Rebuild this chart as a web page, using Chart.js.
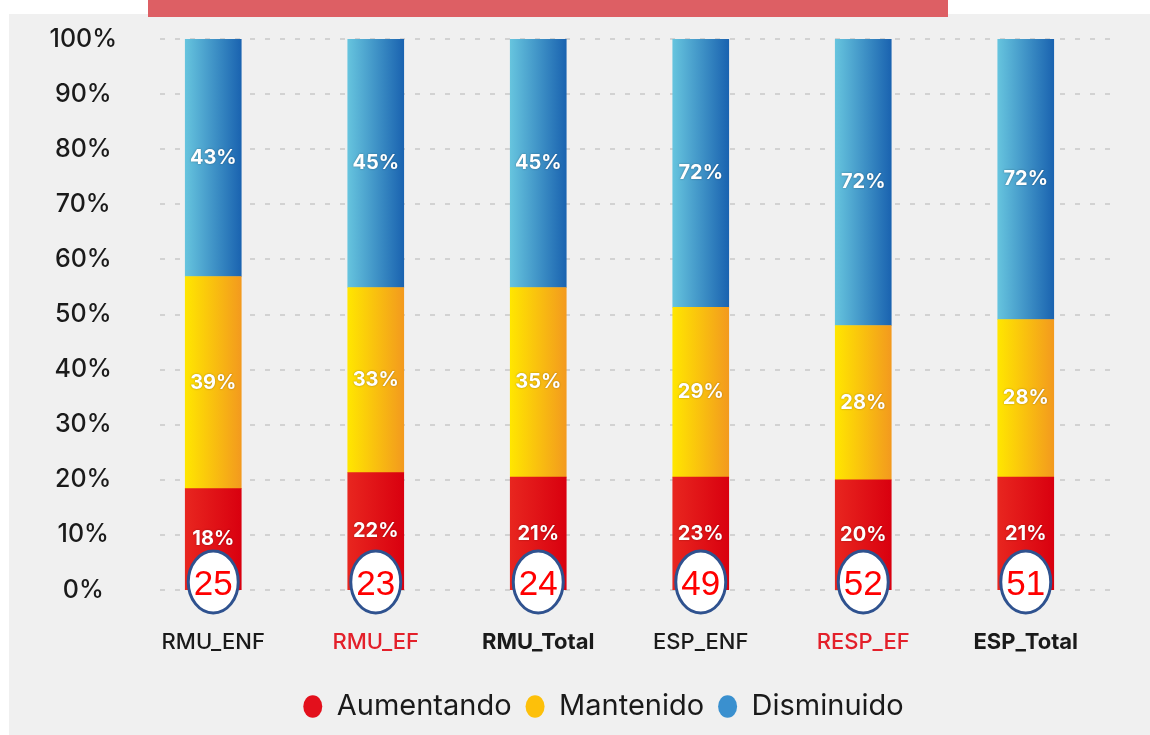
<!DOCTYPE html>
<html>
<head>
<meta charset="utf-8">
<script src="https://cdn.jsdelivr.net/npm/chart.js@4.4.0/dist/chart.umd.min.js"></script>
<style>
    body { margin: 0; background: #ffffff; }
    #latar { position: absolute; left: 9px; top: 14px; width: 1141px; height: 721px; background: #f0f0f0; }
    #pita { position: absolute; left: 148px; top: 0; width: 800px; height: 17px; background: #dd5f64; }
    #wadah { position: absolute; left: 0; top: 0; width: 1150px; height: 735px; }
</style>
</head>
<body>
<div id="latar"></div>
<div id="pita"></div>
<div id="wadah"><canvas id="grafik" width="1150" height="735"></canvas></div>
<script>
// Data
const kategori    = ['RMU_ENF', 'RMU_EF', 'RMU_Total', 'ESP_ENF', 'RESP_EF', 'ESP_Total'];
const aumentando  = [18.4, 21.3, 20.5, 20.5, 20.0, 20.5];
const mantenido   = [38.5, 33.6, 34.4, 30.8, 28.0, 28.6];
const disminuido  = [43.1, 45.1, 45.1, 48.7, 52.0, 50.9];

// Teks label di dalam batang (apa adanya dari gambar)
const labelAumentando = ['18%', '22%', '21%', '23%', '20%', '21%'];
const labelMantenido  = ['39%', '33%', '35%', '29%', '28%', '28%'];
const labelDisminuido = ['43%', '45%', '45%', '72%', '72%', '72%'];

// Angka di dalam elips
const jumlahN = ['25', '23', '24', '49', '52', '51'];

const tickY = [0, 10, 20, 30, 40, 50, 60, 70, 80, 90, 100];

const warnaKategori = ['#1a1a1a', '#e3202a', '#1a1a1a', '#1a1a1a', '#e3202a', '#1a1a1a'];
const tebalKategori = ['500', '500', '700', '500', '500', '700'];

const LEBAR_BATANG = 56;
const FONT = 'Inter';

function gradien(kiri, kanan) {
    return function (ctx) {
        const chart = ctx.chart;
        if (!chart.chartArea || ctx.type !== 'data') return kanan;
        const x = chart.scales.x.getPixelForValue(ctx.dataIndex);
        const g = chart.ctx.createLinearGradient(x - LEBAR_BATANG / 2, 0, x + LEBAR_BATANG / 2, 0);
        g.addColorStop(0, kiri);
        g.addColorStop(1, kanan);
        return g;
    };
}

// Garis bantu putus-putus
const pluginGrid = {
    id: 'gridPutus',
    beforeDatasetsDraw(chart) {
        const c = chart.ctx;
        const y = chart.scales.y;
        c.save();
        c.strokeStyle = '#d2d2d2';
        c.lineWidth = 2;
        c.setLineDash([5, 10]);
        tickY.forEach(v => {
            const py = Math.round(y.getPixelForValue(v));
            c.beginPath();
            c.moveTo(160, py);
            c.lineTo(1110, py);
            c.stroke();
        });
        c.restore();
    }
};

// Geser legenda supaya sejajar dengan gambar asli
const pluginGeserLegenda = {
    id: 'geserLegenda',
    afterLayout(chart) {
        if (chart.legend) {
            chart.legend.left += 50;
            chart.legend.right += 50;
        }
    }
};

// Label persen + elips angka
const pluginLabel = {
    id: 'labelBatang',
    afterDatasetsDraw(chart) {
        const c = chart.ctx;
        const semuaLabel = [labelAumentando, labelMantenido, labelDisminuido];
        c.save();
        c.font = '700 20px ' + FONT;
        c.textAlign = 'center';
        c.textBaseline = 'middle';
        c.fillStyle = '#ffffff';
        c.shadowColor = 'rgba(0,0,0,0.35)';
        c.shadowBlur = 2;
        semuaLabel.forEach((lbl, di) => {
            chart.getDatasetMeta(di).data.forEach((el, i) => {
                c.fillText(lbl[i], el.x, (el.y + el.base) / 2);
            });
        });
        c.restore();

        const meta = chart.getDatasetMeta(0);
        const y0 = chart.scales.y.getPixelForValue(0);
        c.save();
        meta.data.forEach((el, i) => {
            c.beginPath();
            c.ellipse(el.x, y0 - 8, 25, 31, 0, 0, Math.PI * 2);
            c.fillStyle = '#ffffff';
            c.fill();
            c.lineWidth = 3;
            c.strokeStyle = '#2f528f';
            c.stroke();
            c.fillStyle = '#ff0000';
            c.font = '35px "Liberation Sans"';
            c.textAlign = 'center';
            c.textBaseline = 'middle';
            c.fillText(jumlahN[i], el.x, y0 - 5);
        });
        c.restore();
    }
};

function buatGrafik() {
    new Chart(document.getElementById('grafik'), {
        type: 'bar',
        data: {
            labels: kategori,
            datasets: [
                { label: 'Aumentando', data: aumentando, backgroundColor: gradien('#e8261f', '#d9000f') },
                { label: 'Mantenido',  data: mantenido,  backgroundColor: gradien('#ffe600', '#f39a1e') },
                { label: 'Disminuido', data: disminuido, backgroundColor: gradien('#66c4de', '#1a63b0') }
            ]
        },
        options: {
            responsive: false,
            animation: false,
            datasets: { bar: { barThickness: LEBAR_BATANG, borderWidth: 0 } },
            layout: { padding: { top: 39, right: 43, left: 0, bottom: 4 } },
            plugins: {
                tooltip: { enabled: false },
                legend: {
                    position: 'bottom',
                    labels: {
                        usePointStyle: true,
                        pointStyleWidth: 19,
                        boxHeight: 16,
                        padding: 14,
                        color: '#1a1a1a',
                        font: { family: FONT, size: 29 },
                        generateLabels() {
                            const warna = ['#e3101c', '#fdc00a', '#3a90cf'];
                            return ['Aumentando', 'Mantenido', 'Disminuido'].map((t, i) => ({
                                text: t,
                                fillStyle: warna[i],
                                strokeStyle: warna[i],
                                lineWidth: 0,
                                pointStyle: 'circle',
                                hidden: false,
                                datasetIndex: i,
                                fontColor: '#1a1a1a'
                            }));
                        }
                    }
                }
            },
            scales: {
                x: {
                    stacked: true,
                    grid: { display: false, drawTicks: false },
                    border: { display: false },
                    ticks: {
                        padding: 39,
                        color: ctx => warnaKategori[ctx.index],
                        font: ctx => ({ family: FONT, size: 22, weight: tebalKategori[ctx.index] })
                    },
                    afterFit(s) { s.height = 88; }
                },
                y: {
                    stacked: true,
                    min: 0,
                    max: 100,
                    grid: { display: false, drawTicks: false },
                    border: { display: false },
                    afterBuildTicks(s) { s.ticks = tickY.map(v => ({ value: v })); },
                    ticks: {
                        padding: 15,
                        crossAlign: 'center',
                        color: '#1a1a1a',
                        font: { family: FONT, size: 25, weight: '500' },
                        callback: v => v + '%'
                    },
                    afterFit(s) { s.width = 132; }
                }
            }
        },
        plugins: [pluginGrid, pluginLabel, pluginGeserLegenda]
    });
}

// Tunggu font siap dulu supaya lebar teks legenda benar
Promise.all([
    document.fonts.load('29px Inter'),
    document.fonts.load('500 25px Inter'),
    document.fonts.load('700 22px Inter'),
    document.fonts.load('35px "Liberation Sans"')
]).then(buatGrafik, buatGrafik);
</script>
</body>
</html>
